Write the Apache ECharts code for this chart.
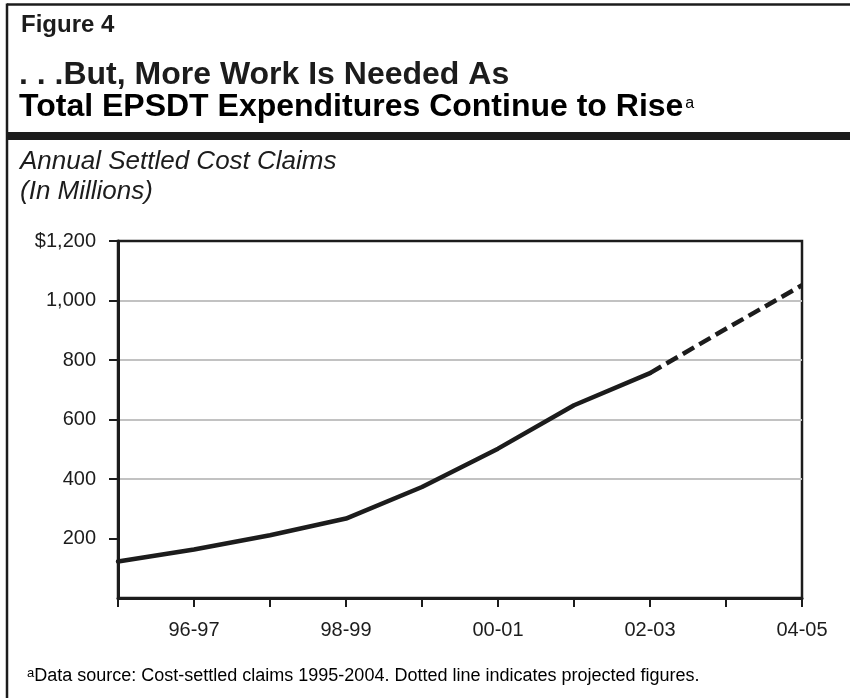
<!DOCTYPE html>
<html>
<head>
<meta charset="utf-8">
<script src="https://cdn.jsdelivr.net/npm/echarts@6/dist/echarts.min.js"></script>
<style>
html,body{margin:0;padding:0;background:#fff;}
#chart{width:850px;height:698px;}
</style>
</head>
<body>
<div id="chart"></div>
<script>
const categories = ['95-96','96-97','97-98','98-99','99-00','00-01','01-02','02-03','03-04','04-05'];
const actualValues = [123, 163, 211, 267, 373, 502, 648, 756, null, null];
const projectedValues = [null, null, null, null, null, null, null, 756, 905, 1051];
const yTickValues = [200, 400, 600, 800, 1000, 1200];
const yTickLabels = ['200', '400', '600', '800', '1,000', '$1,200'];

const FONT = '"Liberation Sans", Arial, Helvetica, sans-serif';
const INK = '#1c1c1c';
const chart = echarts.init(document.getElementById('chart'), null, {renderer: 'canvas'});

const option = {
  backgroundColor: '#ffffff',
  animation: false,
  textStyle: {fontFamily: FONT},
  grid: {left: 118, right: 48, top: 241, bottom: 100, show: true, borderColor: INK, borderWidth: 2.5},
  xAxis: {
    type: 'category',
    data: categories,
    boundaryGap: false,
    axisLine: {lineStyle: {color: INK, width: 3}},
    axisTick: {show: true, interval: 0, length: 9, lineStyle: {color: INK, width: 2}},
    axisLabel: {
      interval: function (i) { return i % 2 === 1; },
      color: INK, fontSize: 20, fontFamily: FONT, margin: 22
    },
    splitLine: {show: false}
  },
  yAxis: {
    type: 'value',
    min: 0, max: 1200, interval: 200,
    axisLine: {show: true, lineStyle: {color: INK, width: 3}},
    axisTick: {show: true, length: 9, customValues: yTickValues, lineStyle: {color: INK, width: 2}},
    axisLabel: {
      color: INK, fontSize: 20, fontFamily: FONT, margin: 22,
      customValues: yTickValues,
      formatter: function (v) {
        const i = yTickValues.indexOf(v);
        return i >= 0 ? yTickLabels[i] : '';
      }
    },
    splitLine: {show: true, showMaxLine: false, showMinLine: false, lineStyle: {color: '#c2c2c2', width: 2}}
  },
  series: [
    {
      name: 'Actual', type: 'line', data: actualValues, symbol: 'none',
      lineStyle: {color: INK, width: 4.5, cap: 'round', join: 'round'}, z: 3
    },
    {
      name: 'Projected', type: 'line', data: projectedValues, symbol: 'none',
      lineStyle: {color: INK, width: 4.5, type: [13, 6]}, z: 3
    }
  ],
  graphic: [
    {type: 'line', shape: {x1: 7, y1: 4.5, x2: 850, y2: 4.5}, style: {stroke: INK, lineWidth: 2.5}},
    {type: 'line', shape: {x1: 7, y1: 3.5, x2: 7, y2: 698}, style: {stroke: INK, lineWidth: 2.5}},
    {type: 'rect', shape: {x: 7, y: 132, width: 843, height: 8}, style: {fill: INK}},
    {type: 'text', x: 21, y: 25, style: {text: 'Figure 4', font: 'bold 24px ' + FONT, fill: INK, verticalAlign: 'middle'}},
    {type: 'text', x: 19, y: 75.5, style: {text: '. . .But, More Work Is Needed As', font: 'bold 32px ' + FONT, fill: INK, verticalAlign: 'middle'}},
    {type: 'text', x: 19, y: 107.5, style: {
      verticalAlign: 'middle',
      rich: {
        t: {fontSize: 32, fontWeight: 'bold', fontFamily: FONT, color: INK, lineHeight: 34},
        s: {fontSize: 16, fontFamily: FONT, color: INK, lineHeight: 16, padding: [0, 0, 8, 2]}
      },
      text: '{t|Total EPSDT Expenditures Continue to Rise}{s|a}'
    }},
    {type: 'text', x: 20, y: 162, style: {text: 'Annual Settled Cost Claims', font: 'italic 26px ' + FONT, fill: INK, verticalAlign: 'middle'}},
    {type: 'text', x: 20, y: 192, style: {text: '(In Millions)', font: 'italic 26px ' + FONT, fill: INK, verticalAlign: 'middle'}},
    {type: 'text', x: 27, y: 676.5, style: {
      verticalAlign: 'middle',
      rich: {
        f: {fontSize: 18, fontFamily: FONT, color: INK, lineHeight: 20},
        s: {fontSize: 13, fontFamily: FONT, color: INK, lineHeight: 13, padding: [0, 0, 7, 0]}
      },
      text: '{s|a}{f|Data source: Cost-settled claims 1995-2004. Dotted line indicates projected figures.}'
    }}
  ]
};
chart.setOption(option);
</script>
</body>
</html>
